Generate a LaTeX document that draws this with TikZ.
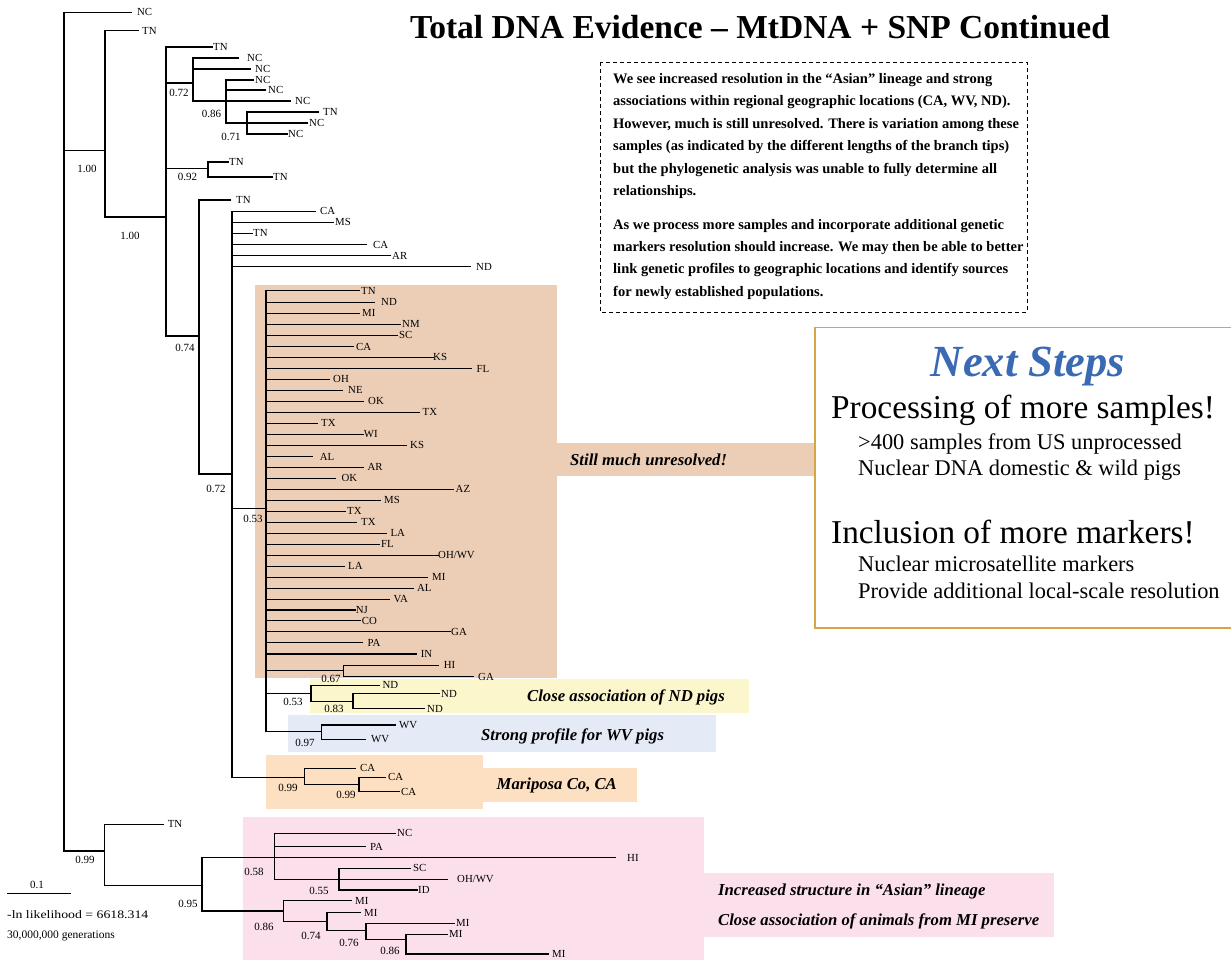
\documentclass[tikz,border=0pt]{standalone}
\usepackage{fontspec}
\setmainfont{Liberation Serif}
\definecolor{brownbg}{RGB}{236,206,183}
\definecolor{yellowbg}{RGB}{251,246,204}
\definecolor{bluebg}{RGB}{228,234,246}
\definecolor{orangebg}{RGB}{253,223,193}
\definecolor{pinkbg}{RGB}{251,224,236}
\definecolor{goldline}{RGB}{214,166,68}
\definecolor{nsblue}{RGB}{58,106,180}
\newcommand\hbr[3]{\draw[br] (#1,#2) -- (#3,#2);}
\newcommand\vbr[3]{\draw[br] (#1,#2) -- (#1,#3);}
\newcommand\tipl[5]{\draw[br] (#1,#2) -- (#3,#2); \node[tl] at (#4,#2) {#5};}
\newcommand\bsv[3]{\node[svs] at (#1,#2) {#3};}
\tikzset{
  br/.style={line width=1.4pt, line cap=rect},
  tl/.style={anchor=west, inner sep=0pt, font=\fontsize{10.8}{12}\selectfont},
  svs/.style={inner sep=0pt, font=\fontsize{11}{12}\selectfont},
  hl/.style={anchor=west, inner sep=0pt, font=\fontsize{16.7}{18}\selectfont\bfseries\itshape},
  boxtxt/.style={anchor=west, inner sep=0pt, font=\fontsize{14.5}{16}\selectfont\bfseries},
  nsbig/.style={anchor=west, inner sep=0pt, font=\fontsize{33.3}{36}\selectfont},
  nssmall/.style={anchor=west, inner sep=0pt, font=\fontsize{22.4}{24}\selectfont},
}
\begin{document}
\begin{tikzpicture}[x=1pt,y=-1pt]
\useasboundingbox (0,0) rectangle (1231,961);
\fill[white] (0,0) rectangle (1231,961);
% highlight backgrounds
\fill[brownbg] (255,285) rectangle (556.5,678);
\fill[brownbg] (556,443) rectangle (815,476);
\fill[yellowbg] (310,679.3) rectangle (748.6,712.7);
\fill[bluebg] (288,715) rectangle (716,751.7);
\fill[orangebg] (266,755) rectangle (483,809);
\fill[orangebg] (482.5,768) rectangle (637,802);
\fill[pinkbg] (243,817) rectangle (704,960);
\fill[pinkbg] (703.5,873) rectangle (1054,937);
% title
\node[inner sep=0pt, font=\fontsize{33.5}{36}\selectfont\bfseries] (title) at (760,27) {Total DNA Evidence – MtDNA + SNP Continued};
% dashed text box
\draw[dashed, line width=1pt, dash pattern=on 4pt off 3pt] (600,62) rectangle (1027,312);
\node[boxtxt] (t1) at (613,80) {We see increased resolution in the “Asian” lineage and strong};
\node[boxtxt] (t2) at (613,102.4) {associations within regional geographic locations (CA, WV, ND).};
\node[boxtxt] (t3) at (613,124.8) {However, much is still unresolved. There is variation among these};
\node[boxtxt] (t4) at (613,147.2) {samples (as indicated by the different lengths of the branch tips)};
\node[boxtxt] (t5) at (613,169.6) {but the phylogenetic analysis was unable to fully determine all};
\node[boxtxt] (t6) at (613,192) {relationships.};
\node[boxtxt] (t7) at (613,225.6) {As we process more samples and incorporate additional genetic};
\node[boxtxt] (t8) at (613,248) {markers resolution should increase. We may then be able to better};
\node[boxtxt] (t9) at (613,270.4) {link genetic profiles to geographic locations and identify sources};
\node[boxtxt] (t10) at (613,292.8) {for newly established populations.};
% next steps box
\draw[goldline, line width=1.8pt, fill=white] (815,327.5) rectangle (1236,628);
\node[inner sep=0pt, text=nsblue, font=\fontsize{44.5}{48}\selectfont\bfseries\itshape] (ns) at (1028,366) {Next Steps};
\node[nsbig] (p1) at (831,410.7) {Processing of more samples!};
\node[nssmall] (p2) at (858,444) {>400 samples from US unprocessed};
\node[nssmall] (p3) at (858,470) {Nuclear DNA domestic \& wild pigs};
\node[nsbig] (p4) at (831,531.7) {Inclusion of more markers!};
\node[nssmall] (p5) at (858,564.3) {Nuclear microsatellite markers};
\node[nssmall] (p6) at (858,590.7) {Provide additional local-scale resolution};
% highlight labels
\node[hl] (h1) at (570,460) {Still much unresolved!};
\node[hl] (h2) at (527,697) {Close association of ND pigs};
\node[hl] (h3) at (481,736) {Strong profile for WV pigs};
\node[hl] (h4) at (496.5,785.7) {Mariposa Co, CA};
\node[hl] (h5) at (718,891) {Increased structure in “Asian” lineage};
\node[hl] (h6) at (718,921) {Close association of animals from MI preserve};
% ---------------- tree ----------------
% root
\vbr{64}{12.3}{851}
\tipl{64}{12.3}{131}{137}{NC}
\hbr{64}{150.7}{105}
\vbr{105}{30.7}{217}
\tipl{105}{30.7}{138}{142}{TN}
\bsv{87}{169}{1.00}
\hbr{105}{217}{166}
\bsv{130}{236}{1.00}
\vbr{166}{47}{336}
\tipl{166}{47}{212}{213}{TN}
% 0.72 NC clade
\hbr{166}{83}{193}
\bsv{179}{93}{0.72}
\vbr{193}{58}{101}
\tipl{193}{58}{238}{247}{NC}
\tipl{193}{69}{250}{255}{NC}
\hbr{193}{101}{226}
\vbr{226}{80}{123}
\bsv{211.5}{114}{0.86}
\tipl{226}{80}{253}{255}{NC}
\tipl{226}{90}{265}{268}{NC}
\tipl{226}{101}{290}{295}{NC}
\hbr{226}{123}{247}
\vbr{247}{112}{134}
\bsv{231}{137}{0.71}
\tipl{247}{112}{318}{323}{TN}
\tipl{247}{123}{307}{309}{NC}
\tipl{247}{134}{287}{288}{NC}
% 0.92
\hbr{166}{168.7}{208}
\vbr{208}{162}{177}
\bsv{187.5}{177}{0.92}
\tipl{208}{162}{228}{229}{TN}
\tipl{208}{177}{272}{273}{TN}
% 0.74
\hbr{166}{336}{199}
\bsv{185}{348}{0.74}
\vbr{199}{200}{474}
\tipl{199}{200}{230}{236}{TN}
% 0.72 big clade
\hbr{199}{474}{232}
\bsv{216}{489}{0.72}
\vbr{232}{211.3}{777.7}
\tipl{232}{211.3}{315}{320}{CA}
\tipl{232}{222.3}{333}{335}{MS}
\tipl{232}{233.3}{252}{253}{TN}
\tipl{232}{244.7}{366}{373}{CA}
\tipl{232}{255.7}{390}{392}{AR}
\tipl{232}{266.7}{470}{476}{ND}
% 0.53 polytomy
\hbr{232}{508.6}{266}
\bsv{253}{519}{0.53}
\vbr{266}{290.7}{731.7}
\tipl{266}{290.7}{359.4}{361}{TN}
\tipl{266}{302.3}{374}{381}{ND}
\tipl{266}{313.3}{359.4}{362}{MI}
\tipl{266}{324.3}{400}{402}{NM}
\tipl{266}{335.3}{397}{399}{SC}
\tipl{266}{346.7}{353}{356}{CA}
\tipl{266}{357.3}{433}{433}{KS}
\tipl{266}{368.7}{471.5}{476.5}{FL}
\tipl{266}{379.3}{328.8}{333}{OH}
\tipl{266}{390.3}{342.6}{348}{NE}
\tipl{266}{401.3}{363.6}{368}{OK}
\tipl{266}{412.3}{419}{422.5}{TX}
\tipl{266}{423.3}{317.3}{321}{TX}
\tipl{266}{434.3}{363}{363.6}{WI}
\tipl{266}{445.3}{406.5}{410}{KS}
\tipl{266}{456.7}{312}{319.6}{AL}
\tipl{266}{467.3}{363}{367.4}{AR}
\tipl{266}{478.3}{335}{341.4}{OK}
\tipl{266}{489.3}{453.5}{455.5}{AZ}
\tipl{266}{500.3}{380.5}{384}{MS}
\tipl{266}{511.3}{345}{347}{TX}
\tipl{266}{522.3}{356}{361}{TX}
\tipl{266}{533.3}{386.6}{390.4}{LA}
\tipl{266}{544.3}{379.7}{380.8}{FL}
\tipl{266}{555.3}{437.9}{438}{OH/WV}
\tipl{266}{566.3}{344}{348}{LA}
\tipl{266}{577.3}{427.5}{432}{MI}
\tipl{266}{588.3}{413}{416.8}{AL}
\tipl{266}{599.3}{389.6}{393.5}{VA}
\tipl{266}{610}{354.8}{355.6}{NJ}
\tipl{266}{620.7}{360.5}{361.7}{CO}
\tipl{266}{631.7}{450.5}{451}{GA}
\tipl{266}{642.7}{362.5}{367.4}{PA}
\tipl{266}{654}{416}{420.6}{IN}
% 0.67
\hbr{266}{670.7}{343.7}
\vbr{343.7}{665.3}{676.7}
\bsv{331}{678.5}{0.67}
\tipl{343.7}{665.3}{438}{443.6}{HI}
\tipl{343.7}{676.7}{473.4}{478}{GA}
% ND clade
\hbr{266}{693.3}{311}
\vbr{311}{685.3}{701.7}
\bsv{293}{701.7}{0.53}
\tipl{311}{685.3}{379.6}{382.4}{ND}
\hbr{311}{701.7}{353}
\vbr{353}{693.7}{708.7}
\bsv{334}{709}{0.83}
\tipl{353}{693.7}{439.4}{441}{ND}
\tipl{353}{708.7}{424.6}{427}{ND}
% WV clade
\hbr{266}{731.7}{321.5}
\vbr{321.5}{725}{739.3}
\bsv{305}{743}{0.97}
\tipl{321.5}{725}{395.4}{399}{WV}
\tipl{321.5}{739.3}{364.8}{371}{WV}
% Mariposa clade
\hbr{232}{777.7}{304.6}
\vbr{304.6}{768.3}{784.3}
\bsv{288}{788}{0.99}
\tipl{304.6}{768.3}{355}{360}{CA}
\hbr{304.6}{784.3}{359}
\vbr{359}{777.3}{791.7}
\bsv{346}{795}{0.99}
\tipl{359}{777.3}{385}{388}{CA}
\tipl{359}{791.7}{399}{401}{CA}
% bottom (Asian) clade
\hbr{64}{851}{104.7}
\vbr{104.7}{824.3}{885.7}
\bsv{85}{860}{0.99}
\tipl{104.7}{824.3}{163}{167.6}{TN}
\hbr{104.7}{885.7}{202}
\vbr{202}{857.7}{911}
\bsv{188}{904}{0.95}
\hbr{202}{857.7}{274.6}
\vbr{274.6}{833.3}{879.3}
\bsv{254}{872}{0.58}
\tipl{274.6}{833.3}{395}{397}{NC}
\tipl{274.6}{846.7}{365}{370}{PA}
\tipl{274.6}{857.7}{615}{627}{HI}
\hbr{274.6}{879.3}{338.8}
\vbr{338.8}{868.3}{890}
\bsv{319}{891}{0.55}
\tipl{338.8}{868.3}{410}{413}{SC}
\tipl{338.8}{879.3}{447.6}{457}{OH/WV}
\tipl{338.8}{890}{417}{418}{ID}
\hbr{202}{911}{283.7}
\vbr{283.7}{900.7}{921.7}
\bsv{264}{927}{0.86}
\tipl{283.7}{900.7}{351}{355}{MI}
\hbr{283.7}{921.7}{327}
\vbr{327}{912.7}{930.7}
\bsv{311}{936}{0.74}
\tipl{327}{912.7}{360.4}{364}{MI}
\hbr{327}{930.7}{366}
\vbr{366}{923.3}{939.3}
\bsv{349}{943}{0.76}
\tipl{366}{923.3}{454.5}{456}{MI}
\hbr{366}{939.3}{406}
\vbr{406}{934.3}{954}
\bsv{390}{950.5}{0.86}
\tipl{406}{934.3}{447.6}{449}{MI}
\tipl{406}{954}{548.6}{552}{MI}
% scale bar and notes
\coordinate (sbl) at (7,893);
\coordinate (sbr) at (71,893);
\draw[line width=1pt] (sbl) -- (sbr);
\node[svs] (sb) at (37,885) {0.1};
\node[anchor=west, inner sep=0pt, font=\fontsize{11.5}{13}\selectfont] (lnl) at (7,914.5) {\scalebox{1.2}[1]{-ln likelihood = 6618.314}};
\node[anchor=west, inner sep=0pt, font=\fontsize{11.5}{13}\selectfont] (gen) at (7,935.5) {30,000,000 generations};
\end{tikzpicture}
\end{document}
